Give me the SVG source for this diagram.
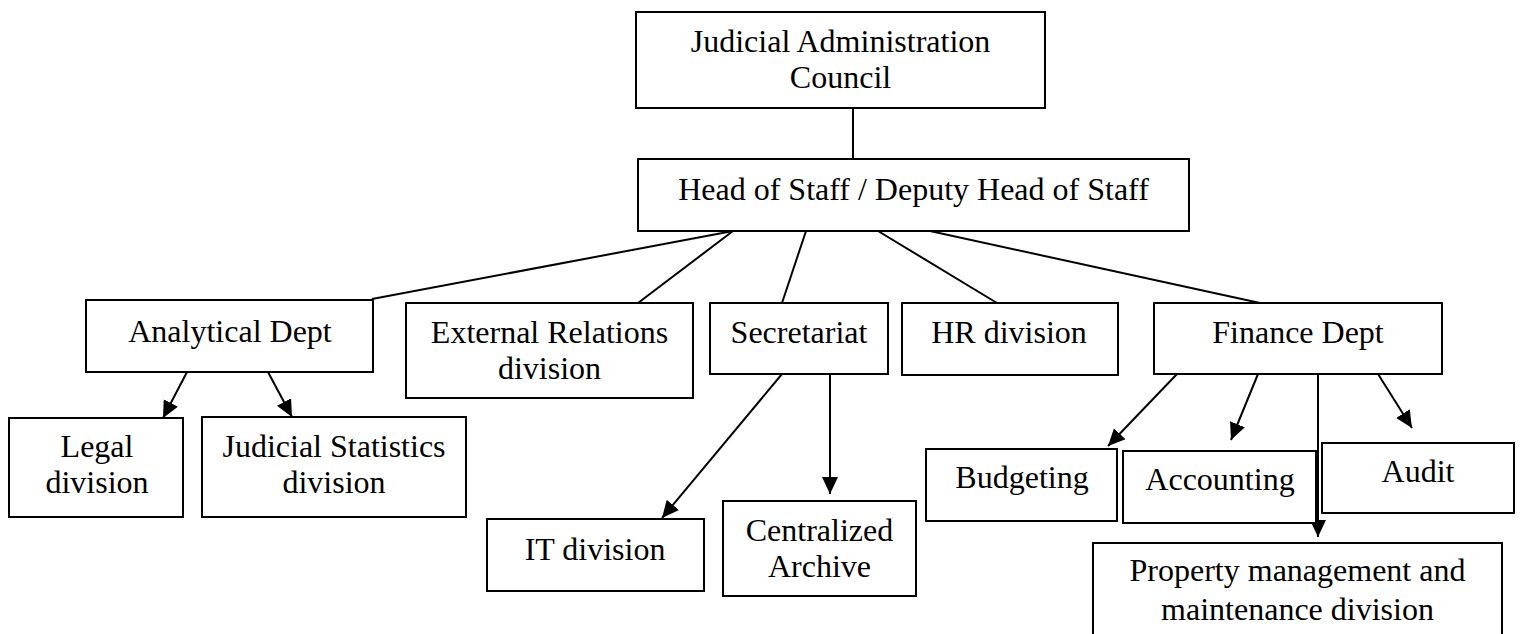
<svg xmlns="http://www.w3.org/2000/svg" width="1520" height="634" viewBox="0 0 1520 634">
<style>
.box{fill:#fff;stroke:#000;stroke-width:2}
.t{font-family:"Liberation Serif","Times New Roman",serif;font-size:32px;fill:#000;text-anchor:middle}
.c{stroke:#000;stroke-width:2;fill:none}
.a{stroke:#000;stroke-width:2;fill:none;marker-end:url(#arr)}
</style>
<defs>
<marker id="arr" markerUnits="userSpaceOnUse" markerWidth="18" markerHeight="17" refX="17" refY="8" orient="auto">
<path d="M0,0 L17,8 L0,16 z" fill="#000"/>
</marker>
</defs>
<rect width="1520" height="634" fill="#fff"/>
<g id="connectors">
<line class="c" x1="853" y1="108" x2="853" y2="159"/>
<line class="c" x1="733" y1="231" x2="372" y2="299"/>
<line class="c" x1="733" y1="231" x2="638" y2="303"/>
<line class="c" x1="806" y1="231" x2="782" y2="303"/>
<line class="c" x1="878" y1="231" x2="997" y2="303"/>
<line class="c" x1="930" y1="231" x2="1260" y2="303"/>
<line class="a" x1="187" y1="372" x2="163" y2="418"/>
<line class="a" x1="268" y1="372" x2="292" y2="417"/>
<line class="a" x1="782" y1="374" x2="662" y2="518"/>
<line class="a" x1="830" y1="374" x2="830" y2="494"/>
<line class="a" x1="1177" y1="374" x2="1108" y2="446"/>
<line class="a" x1="1258" y1="374" x2="1231" y2="440"/>
<line class="a" x1="1318" y1="374" x2="1318" y2="537"/>
<line class="a" x1="1378" y1="374" x2="1412" y2="428"/>
</g>
<g id="jac"><rect class="box" x="636" y="12" width="409" height="96"/><text class="t" x="840.5" y="52">Judicial Administration</text><text class="t" x="840.5" y="88">Council</text></g>
<g id="head"><rect class="box" x="638" y="159" width="551" height="72"/><text class="t" x="913.5" y="200">Head of Staff / Deputy Head of Staff</text></g>
<g id="analytical"><rect class="box" x="86" y="300" width="287" height="72"/><text class="t" x="230" y="342">Analytical Dept</text></g>
<g id="external"><rect class="box" x="406" y="303" width="287" height="95"/><text class="t" x="549.5" y="343">External Relations</text><text class="t" x="549.5" y="379">division</text></g>
<g id="secretariat"><rect class="box" x="710" y="303" width="178" height="71"/><text class="t" x="799" y="343">Secretariat</text></g>
<g id="hr"><rect class="box" x="902" y="303" width="216" height="72"/><text class="t" x="1009" y="343">HR division</text></g>
<g id="finance"><rect class="box" x="1154" y="303" width="288" height="71"/><text class="t" x="1298" y="343">Finance Dept</text></g>
<g id="legal"><rect class="box" x="9" y="418" width="174" height="99"/><text class="t" x="97" y="457">Legal</text><text class="t" x="97" y="493">division</text></g>
<g id="judstat"><rect class="box" x="202" y="417" width="264" height="100"/><text class="t" x="334" y="457">Judicial Statistics</text><text class="t" x="334" y="493">division</text></g>
<g id="it"><rect class="box" x="487" y="519" width="217" height="72"/><text class="t" x="595" y="560">IT division</text></g>
<g id="archive"><rect class="box" x="723" y="501" width="193" height="95"/><text class="t" x="819.5" y="541">Centralized</text><text class="t" x="819.5" y="577">Archive</text></g>
<g id="budgeting"><rect class="box" x="926" y="449" width="191" height="72"/><text class="t" x="1022" y="488">Budgeting</text></g>
<g id="accounting"><rect class="box" x="1123" y="451" width="193" height="72"/><text class="t" x="1220" y="490">Accounting</text></g>
<g id="audit"><rect class="box" x="1322" y="443" width="192" height="70"/><text class="t" x="1418" y="482">Audit</text></g>
<g id="property"><rect class="box" x="1093" y="543" width="409" height="100"/><text class="t" x="1297.5" y="581">Property management and</text><text class="t" x="1297.5" y="620">maintenance division</text></g>
</svg>
